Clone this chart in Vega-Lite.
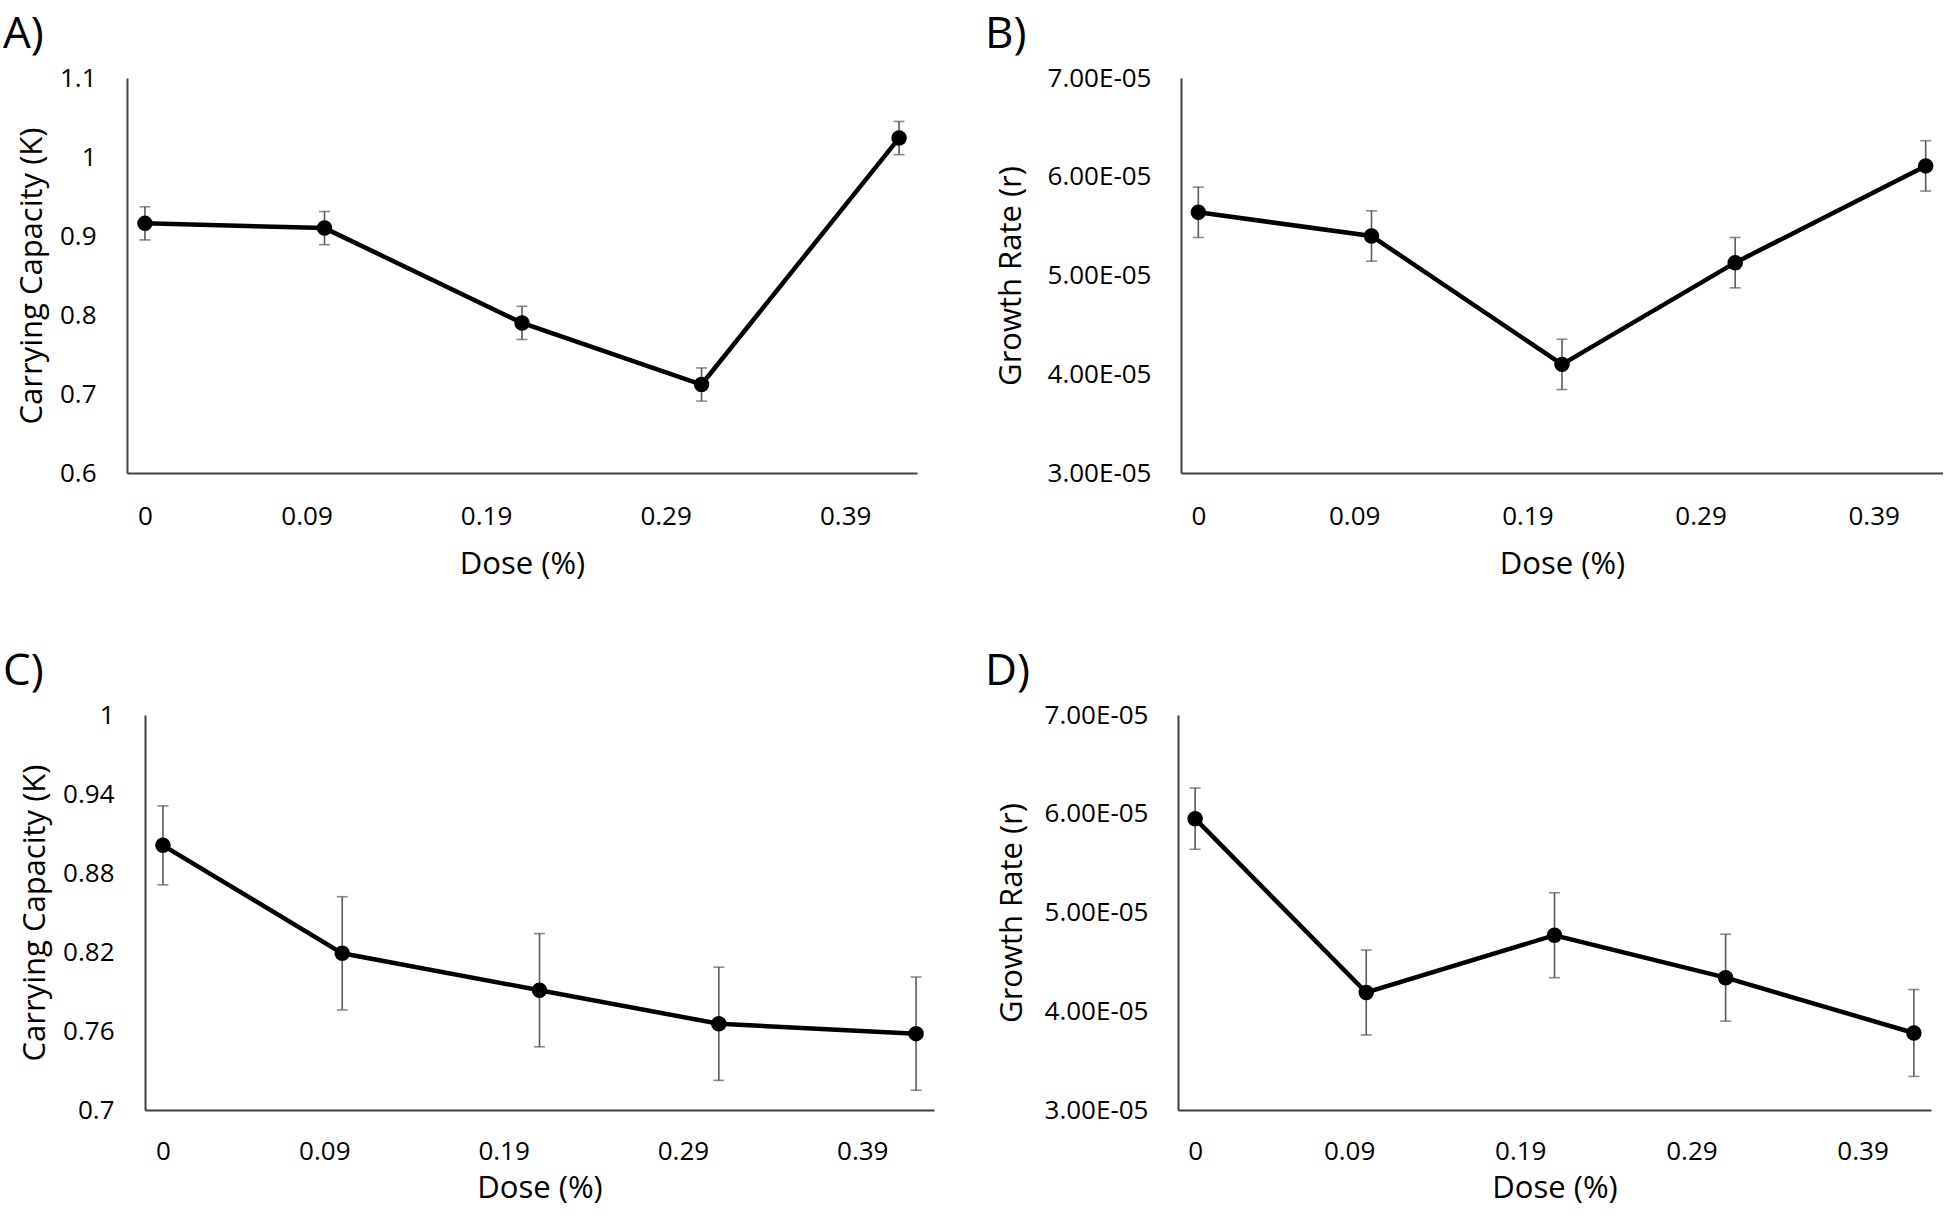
{
  "$schema": "https://vega.github.io/schema/vega-lite/v6.json",
  "background": "white",
  "padding": {"left": 3, "top": 13, "right": 0, "bottom": 10},
  "config": {
    "view": {"stroke": null},
    "font": "Open Sans",
    "axis": {"grid": false, "ticks": false, "domainColor": "#404040", "domainWidth": 2, "labelFont": "Open Sans", "labelFontSize": 26, "labelColor": "#000", "titleFont": "Open Sans", "titleFontSize": 31, "titleFontWeight": "normal", "titleColor": "#000", "labelPadding": 31, "labelOverlap": false, "labelFlush": false},
    "axisX": {"labelPadding": 30, "titlePadding": 20},
    "axisY": {"titlePadding": 11},
    "title": {"font": "Open Sans", "fontSize": 44, "fontWeight": "normal", "anchor": "start", "frame": "group", "color": "#000"}
  },
  "datasets": {
    "A": [
      {"dose": 0, "K": 0.916, "err": 0.021},
      {"dose": 0.1, "K": 0.910, "err": 0.021},
      {"dose": 0.21, "K": 0.790, "err": 0.021},
      {"dose": 0.31, "K": 0.712, "err": 0.021},
      {"dose": 0.42, "K": 1.024, "err": 0.021}
    ],
    "B": [
      {"dose": 0, "r": 5.64e-5, "err": 2.55e-6},
      {"dose": 0.1, "r": 5.40e-5, "err": 2.55e-6},
      {"dose": 0.21, "r": 4.10e-5, "err": 2.55e-6},
      {"dose": 0.31, "r": 5.13e-5, "err": 2.55e-6},
      {"dose": 0.42, "r": 6.11e-5, "err": 2.55e-6}
    ],
    "C": [
      {"dose": 0, "K": 0.901, "err": 0.030},
      {"dose": 0.1, "K": 0.819, "err": 0.043},
      {"dose": 0.21, "K": 0.791, "err": 0.043},
      {"dose": 0.31, "K": 0.7655, "err": 0.043},
      {"dose": 0.42, "K": 0.758, "err": 0.043}
    ],
    "D": [
      {"dose": 0, "r": 5.95e-5, "err": 3.1e-6},
      {"dose": 0.1, "r": 4.19e-5, "err": 4.3e-6},
      {"dose": 0.21, "r": 4.77e-5, "err": 4.3e-6},
      {"dose": 0.31, "r": 4.34e-5, "err": 4.4e-6},
      {"dose": 0.42, "r": 3.78e-5, "err": 4.4e-6}
    ],
    "empty": []
  },
  "spacing": 71,
  "vconcat": [
    {
      "bounds": "flush",
      "spacing": 264,
      "hconcat": [
        {
          "width": 790, "height": 395,
          "title": {"text": "A)", "dx": -124, "offset": 8},
          "data": {"name": "A"},
          "encoding": {
            "x": {"field": "dose", "type": "quantitative", "scale": {"domain": [-0.01, 0.43], "nice": false, "zero": false}, "axis": {"title": "Dose (%)", "values": [0, 0.09, 0.19, 0.29, 0.39], "labelExpr": "'' + datum.value"}},
            "y": {"field": "K", "type": "quantitative", "scale": {"domain": [0.6, 1.1], "nice": false, "zero": false}, "axis": {"title": "Carrying Capacity (K)", "values": [0.6, 0.7, 0.8, 0.9, 1, 1.1], "labelExpr": "'' + datum.value"}}
          },
          "layer": [
            {"mark": {"type": "errorbar", "ticks": {"size": 11, "color": "#5a5a5a", "thickness": 1.6}, "rule": {"color": "#5a5a5a", "strokeWidth": 1.6}}, "encoding": {"yError": {"field": "err"}}},
            {"mark": {"type": "line", "color": "black", "strokeWidth": 4.5}},
            {"mark": {"type": "point", "filled": true, "color": "black", "size": 240, "opacity": 1}}
          ]
        },
        {
          "width": 762, "height": 395,
          "title": {"text": "B)", "dx": -196, "offset": 8},
          "data": {"name": "B"},
          "encoding": {
            "x": {"field": "dose", "type": "quantitative", "scale": {"domain": [-0.01, 0.43], "nice": false, "zero": false}, "axis": {"title": "Dose (%)", "values": [0, 0.09, 0.19, 0.29, 0.39], "labelExpr": "'' + datum.value"}},
            "y": {"field": "r", "type": "quantitative", "scale": {"domain": [3e-5, 7e-5], "nice": false, "zero": false}, "axis": {"title": "Growth Rate (r)", "titlePadding": 20, "values": [3e-5, 4e-5, 5e-5, 6e-5, 7e-5], "labelExpr": "format(datum.value * 100000, '.2f') + 'E-05'", "labelPadding": 30}}
          },
          "layer": [
            {"mark": {"type": "errorbar", "ticks": {"size": 11, "color": "#5a5a5a", "thickness": 1.6}, "rule": {"color": "#5a5a5a", "strokeWidth": 1.6}}, "encoding": {"yError": {"field": "err"}}},
            {"mark": {"type": "line", "color": "black", "strokeWidth": 4.5}},
            {"mark": {"type": "point", "filled": true, "color": "black", "size": 240, "opacity": 1}}
          ]
        }
      ]
    },
    {
      "bounds": "flush",
      "spacing": 0,
      "hconcat": [
        {"width": 18, "height": 395, "data": {"name": "empty"}, "mark": {"type": "point", "opacity": 0}},
        {
          "width": 789, "height": 395,
          "title": {"text": "C)", "dx": -142, "offset": 8},
          "data": {"name": "C"},
          "encoding": {
            "x": {"field": "dose", "type": "quantitative", "scale": {"domain": [-0.01, 0.43], "nice": false, "zero": false}, "axis": {"title": "Dose (%)", "titlePadding": 9, "labelPadding": 28, "values": [0, 0.09, 0.19, 0.29, 0.39], "labelExpr": "'' + datum.value"}},
            "y": {"field": "K", "type": "quantitative", "scale": {"domain": [0.7, 1.0], "nice": false, "zero": false}, "axis": {"title": "Carrying Capacity (K)", "values": [0.7, 0.76, 0.82, 0.88, 0.94, 1], "labelExpr": "'' + datum.value"}}
          },
          "layer": [
            {"mark": {"type": "errorbar", "ticks": {"size": 11, "color": "#5a5a5a", "thickness": 1.6}, "rule": {"color": "#5a5a5a", "strokeWidth": 1.6}}, "encoding": {"yError": {"field": "err"}}},
            {"mark": {"type": "line", "color": "black", "strokeWidth": 4.5}},
            {"mark": {"type": "point", "filled": true, "color": "black", "size": 240, "opacity": 1}}
          ]
        },
        {"width": 244, "height": 395, "data": {"name": "empty"}, "mark": {"type": "point", "opacity": 0}},
        {
          "width": 753, "height": 395,
          "title": {"text": "D)", "dx": -193, "offset": 8},
          "data": {"name": "D"},
          "encoding": {
            "x": {"field": "dose", "type": "quantitative", "scale": {"domain": [-0.01, 0.43], "nice": false, "zero": false}, "axis": {"title": "Dose (%)", "titlePadding": 9, "labelPadding": 28, "values": [0, 0.09, 0.19, 0.29, 0.39], "labelExpr": "'' + datum.value"}},
            "y": {"field": "r", "type": "quantitative", "scale": {"domain": [3e-5, 7e-5], "nice": false, "zero": false}, "axis": {"title": "Growth Rate (r)", "titlePadding": 16, "values": [3e-5, 4e-5, 5e-5, 6e-5, 7e-5], "labelExpr": "format(datum.value * 100000, '.2f') + 'E-05'", "labelPadding": 30}}
          },
          "layer": [
            {"mark": {"type": "errorbar", "ticks": {"size": 11, "color": "#5a5a5a", "thickness": 1.6}, "rule": {"color": "#5a5a5a", "strokeWidth": 1.6}}, "encoding": {"yError": {"field": "err"}}},
            {"mark": {"type": "line", "color": "black", "strokeWidth": 4.5}},
            {"mark": {"type": "point", "filled": true, "color": "black", "size": 240, "opacity": 1}}
          ]
        }
      ]
    }
  ]
}
